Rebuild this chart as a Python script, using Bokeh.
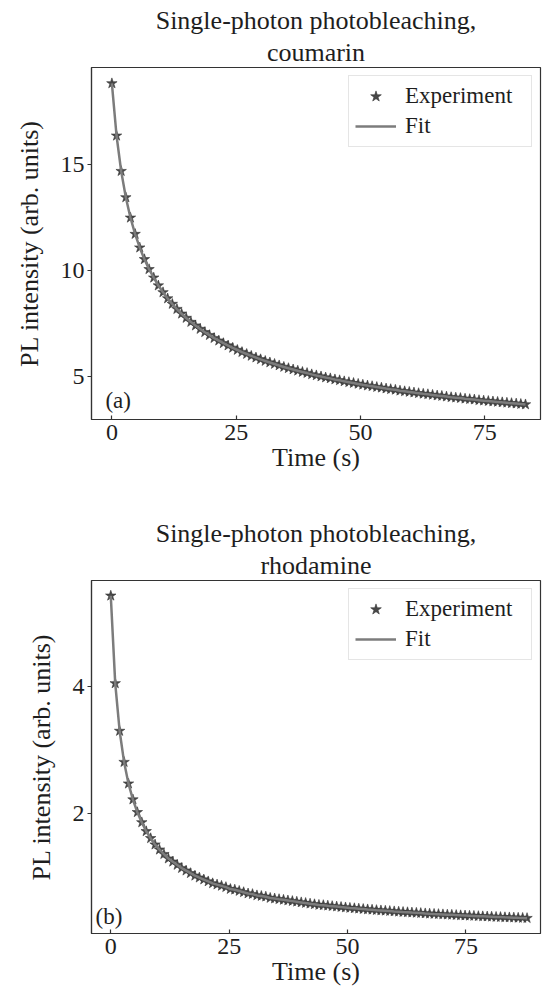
from bokeh.plotting import figure
from bokeh.layouts import column
from bokeh.models import Range1d, FixedTicker, Title, Label
from bokeh.embed import file_html
from bokeh.resources import INLINE

# ---------------- data ----------------
time_s = [0.00, 0.94, 1.87, 2.81, 3.74, 4.68, 5.61, 6.55, 7.48, 8.42,
          9.35, 10.29, 11.22, 12.16, 13.09, 14.03, 14.96, 15.90, 16.83, 17.77,
          18.70, 19.64, 20.57, 21.51, 22.44, 23.38, 24.31, 25.25, 26.18, 27.12,
          28.05, 28.99, 29.92, 30.86, 31.79, 32.73, 33.66, 34.60, 35.53, 36.47,
          37.40, 38.34, 39.27, 40.21, 41.14, 42.08, 43.01, 43.95, 44.88, 45.82,
          46.75, 47.69, 48.62, 49.56, 50.49, 51.43, 52.36, 53.30, 54.23, 55.17,
          56.10, 57.04, 57.97, 58.91, 59.84, 60.78, 61.71, 62.65, 63.58, 64.52,
          65.45, 66.39, 67.32, 68.26, 69.19, 70.13, 71.06, 72.00, 72.93, 73.87,
          74.80, 75.74, 76.67, 77.61, 78.54, 79.48, 80.41, 81.35, 82.28, 83.22,
          84.15, 85.09, 86.02, 86.96, 87.89]

coumarin_pl = [18.83, 16.36, 14.69, 13.45, 12.49, 11.72, 11.08, 10.53, 10.06, 9.66,
               9.29, 8.97, 8.68, 8.42, 8.18, 7.96, 7.76, 7.57, 7.40, 7.24,
               7.09, 6.95, 6.81, 6.69, 6.57, 6.46, 6.35, 6.25, 6.15, 6.06,
               5.97, 5.89, 5.81, 5.73, 5.66, 5.59, 5.52, 5.45, 5.39, 5.33,
               5.27, 5.21, 5.16, 5.10, 5.05, 5.00, 4.95, 4.91, 4.86, 4.82,
               4.77, 4.73, 4.69, 4.65, 4.61, 4.57, 4.54, 4.50, 4.47, 4.43,
               4.40, 4.37, 4.33, 4.30, 4.27, 4.24, 4.21, 4.18, 4.16, 4.13,
               4.10, 4.08, 4.05, 4.02, 4.00, 3.98, 3.95, 3.93, 3.91, 3.88,
               3.86, 3.84, 3.82, 3.80, 3.78, 3.76, 3.74, 3.72, 3.70, 3.68]
time_coumarin = time_s[:len(coumarin_pl)]

rhodamine_pl = [5.43, 4.05, 3.30, 2.81, 2.47, 2.22, 2.02, 1.86, 1.72, 1.61,
                1.51, 1.43, 1.36, 1.29, 1.24, 1.19, 1.14, 1.10, 1.06, 1.02,
                0.99, 0.96, 0.93, 0.90, 0.88, 0.86, 0.84, 0.81, 0.80, 0.78,
                0.76, 0.74, 0.73, 0.71, 0.70, 0.69, 0.67, 0.66, 0.65, 0.64,
                0.63, 0.62, 0.61, 0.60, 0.59, 0.58, 0.57, 0.56, 0.556, 0.548,
                0.541, 0.534, 0.527, 0.520, 0.513, 0.507, 0.501, 0.495, 0.489, 0.484,
                0.478, 0.473, 0.468, 0.463, 0.458, 0.453, 0.448, 0.444, 0.439, 0.435,
                0.431, 0.426, 0.422, 0.418, 0.415, 0.411, 0.407, 0.404, 0.400, 0.396,
                0.393, 0.390, 0.387, 0.383, 0.380, 0.377, 0.374, 0.371, 0.368, 0.365,
                0.363, 0.360, 0.357, 0.355, 0.352]
time_rhodamine = time_s[:len(rhodamine_pl)]

x_ticks = [0, 25, 50, 75]
y_ticks_coumarin = [5, 10, 15]
y_ticks_rhodamine = [2, 4]

title_main = "Single-photon photobleaching,"
titles_sub = ["coumarin", "rhodamine"]
panel_tags = ["(a)", "(b)"]
x_label = "Time (s)"
y_label = "PL intensity (arb. units)"

# ---------------- styling ----------------
FONT = "Liberation Serif"
TXT = "#1e1e1e"
AX = "#333333"
STAR = "#484848"
FIT = "#7c7c7c"


def make_panel(t, y, xr, yr, yticks, sub, tag, tag_xy, height, btop, bbot, bleft):
    p = figure(width=542, height=height, x_range=Range1d(*xr), y_range=Range1d(*yr),
               output_backend="svg", toolbar_location=None, title=None,
               min_border_left=bleft, min_border_right=2,
               min_border_top=btop, min_border_bottom=bbot)
    p.xgrid.visible = False
    p.ygrid.visible = False
    p.background_fill_color = "white"
    p.border_fill_color = "white"
    p.outline_line_color = AX
    p.outline_line_width = 1.2

    p.scatter(t, y, marker="star", size=11, fill_color=STAR, line_color="#363636",
              line_width=0.6, legend_label="Experiment")
    p.line(t, y, line_color=FIT, line_width=2.5, legend_label="Fit")

    for ax in (p.xaxis[0], p.yaxis[0]):
        ax.axis_line_color = AX
        ax.axis_line_width = 1.2
        ax.major_tick_line_color = AX
        ax.major_tick_line_width = 1.2
        ax.minor_tick_line_color = None
        ax.major_label_text_font = FONT
        ax.major_label_text_font_size = "24px"
        ax.major_label_text_color = TXT
        ax.axis_label_text_font = FONT
        ax.axis_label_text_font_size = "26px"
        ax.axis_label_text_font_style = "normal"
        ax.axis_label_text_color = TXT

    p.xaxis.ticker = FixedTicker(ticks=x_ticks)
    p.xaxis.major_tick_in = 4
    p.xaxis.major_tick_out = 0
    p.xaxis.major_label_standoff = 5
    p.xaxis.axis_label = x_label
    p.xaxis.axis_label_standoff = 0

    p.yaxis.ticker = FixedTicker(ticks=yticks)
    p.yaxis.major_tick_in = 0
    p.yaxis.major_tick_out = 4
    p.yaxis.major_label_standoff = 3
    p.yaxis.axis_label = y_label
    p.yaxis.axis_label_standoff = 14

    p.add_layout(Title(text=sub, align="center", text_font=FONT, text_font_size="26px",
                       text_font_style="normal", text_color=TXT, standoff=2), "above")
    p.add_layout(Title(text=title_main, align="center", text_font=FONT, text_font_size="26px",
                       text_font_style="normal", text_color=TXT, standoff=0), "above")

    p.add_layout(Label(x=tag_xy[0], y=tag_xy[1], text=tag, text_font=FONT,
                       text_font_size="23px", text_color=TXT, text_align="left",
                       text_baseline="middle"))

    lg = p.legend[0]
    lg.location = "top_right"
    lg.margin = 8
    lg.padding = 6
    lg.spacing = 2
    lg.glyph_width = 41
    lg.glyph_height = 28
    lg.label_height = 28
    lg.label_width = 120
    lg.label_standoff = 9
    lg.label_text_font = FONT
    lg.label_text_font_size = "23px"
    lg.label_text_color = TXT
    lg.border_line_color = "#cccccc"
    lg.border_line_width = 1
    lg.background_fill_alpha = 0.8
    return p


p1 = make_panel(time_coumarin, coumarin_pl, (-4.10, 86.24), (2.97, 19.58), y_ticks_coumarin,
                titles_sub[0], panel_tags[0], (-1.3, 3.85), 500, 67, 81, 91)
p2 = make_panel(time_rhodamine, rhodamine_pl, (-4.07, 90.73), (0.11, 5.67), y_ticks_rhodamine,
                titles_sub[1], panel_tags[1], (-3.2, 0.38), 501, 80, 68, 90)

layout = column(p1, p2)
open("out.html", "w").write(file_html(layout, INLINE))
